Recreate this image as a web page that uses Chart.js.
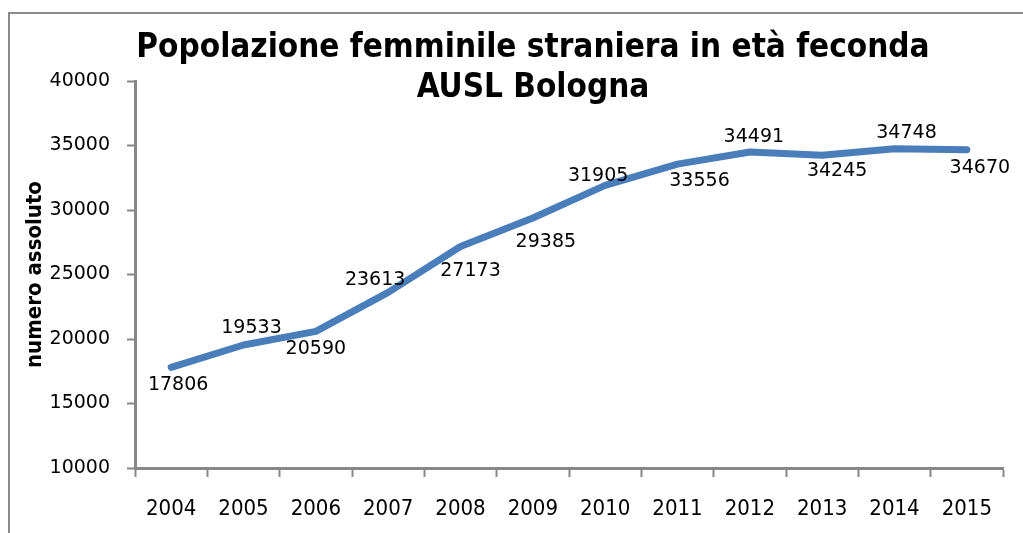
<!DOCTYPE html>
<html>
<head>
<meta charset="utf-8">
<script src="https://cdn.jsdelivr.net/npm/chart.js@4"></script>
<style>
    html, body { margin: 0; padding: 0; background: #fff; overflow: hidden; }
    #wrap { position: relative; width: 1023px; height: 533px; }
    #frame { position: absolute; left: 8px; top: 12px; width: 1100px; height: 600px; border: 2px solid #8a8a8a; box-sizing: border-box; }
    canvas { position: absolute; left: 0; top: 0; }
</style>
</head>
<body>
<div id="wrap">
    <div id="frame"></div>
    <canvas id="chart" width="1023" height="533"></canvas>
</div>
<script>
// Data
const years = ['2004', '2005', '2006', '2007', '2008', '2009', '2010', '2011', '2012', '2013', '2014', '2015'];
const population = [17806, 19533, 20590, 23613, 27173, 29385, 31905, 33556, 34491, 34245, 34748, 34670];
const titleLines = ['Popolazione femminile straniera in età feconda', 'AUSL Bologna'];
const yTitle = 'numero assoluto';

const narrow = '"Liberation Sans Narrow", "DejaVu Sans Condensed", sans-serif';
const wide = '"DejaVu Sans", Verdana, sans-serif';
const axisGrey = '#878787';

// label offsets (px) from each point, as placed in the original
const labelOffsets = [
    [7, 18], [8, -17], [0, 18], [-13, -12], [10, 25], [13, 24],
    [-7, -9], [22, 17], [4, -15], [15, 16], [12, -16], [13, 18]
];

const titlePlugin = {
    id: 'bigTitle',
    afterDraw(chart) {
        const ctx = chart.ctx;
        ctx.save();
        ctx.fillStyle = '#000';
        ctx.font = 'bold 33px ' + narrow;
        ctx.textAlign = 'center';
        ctx.textBaseline = 'alphabetic';
        ctx.fillText(titleLines[0], 533, 57);
        ctx.fillText(titleLines[1], 533, 97);
        ctx.restore();
    }
};

const valueLabels = {
    id: 'valueLabels',
    afterDatasetsDraw(chart) {
        const ctx = chart.ctx;
        const meta = chart.getDatasetMeta(0);
        ctx.save();
        ctx.fillStyle = '#000';
        ctx.font = '19px ' + wide;
        ctx.textAlign = 'center';
        ctx.textBaseline = 'middle';
        meta.data.forEach((pt, i) => {
            const off = labelOffsets[i];
            ctx.fillText(String(population[i]), pt.x + off[0], pt.y + off[1]);
        });
        ctx.restore();
    }
};

new Chart(document.getElementById('chart'), {
    type: 'line',
    data: {
        labels: years,
        datasets: [{
            data: population,
            borderColor: '#4a7ebb',
            borderWidth: 7,
            borderCapStyle: 'round',
            borderJoinStyle: 'round',
            pointRadius: 0,
            tension: 0,
            fill: false
        }]
    },
    options: {
        responsive: false,
        animation: false,
        layout: { padding: { left: 12, top: 81, right: 20, bottom: 0 } },
        plugins: {
            legend: { display: false },
            tooltip: { enabled: false },
            title: { display: false }
        },
        scales: {
            x: {
                offset: true,
                grid: {
                    offset: true,
                    drawOnChartArea: false,
                    drawTicks: true,
                    tickLength: 9,
                    tickColor: axisGrey,
                    tickWidth: 2
                },
                border: { display: true, color: axisGrey, width: 3 },
                ticks: {
                    color: '#000',
                    font: { family: narrow, size: 22 },
                    padding: 19,
                    maxRotation: 0
                },
                afterFit(scale) { scale.height = 65; }
            },
            y: {
                min: 10000,
                max: 40000,
                ticks: {
                    stepSize: 5000,
                    color: '#000',
                    font: { family: wide, size: 19 },
                    padding: 17,
                    callback: value => String(value)
                },
                grid: {
                    drawOnChartArea: false,
                    drawTicks: true,
                    tickLength: 8,
                    tickColor: axisGrey,
                    tickWidth: 2
                },
                border: { display: true, color: axisGrey, width: 3 },
                title: {
                    display: true,
                    text: yTitle,
                    color: '#000',
                    font: { family: narrow, size: 22, weight: 'bold' },
                    padding: { top: 10, bottom: 0 }
                },
                afterFit(scale) { scale.width = 123; }
            }
        }
    },
    plugins: [titlePlugin, valueLabels]
});
</script>
</body>
</html>
